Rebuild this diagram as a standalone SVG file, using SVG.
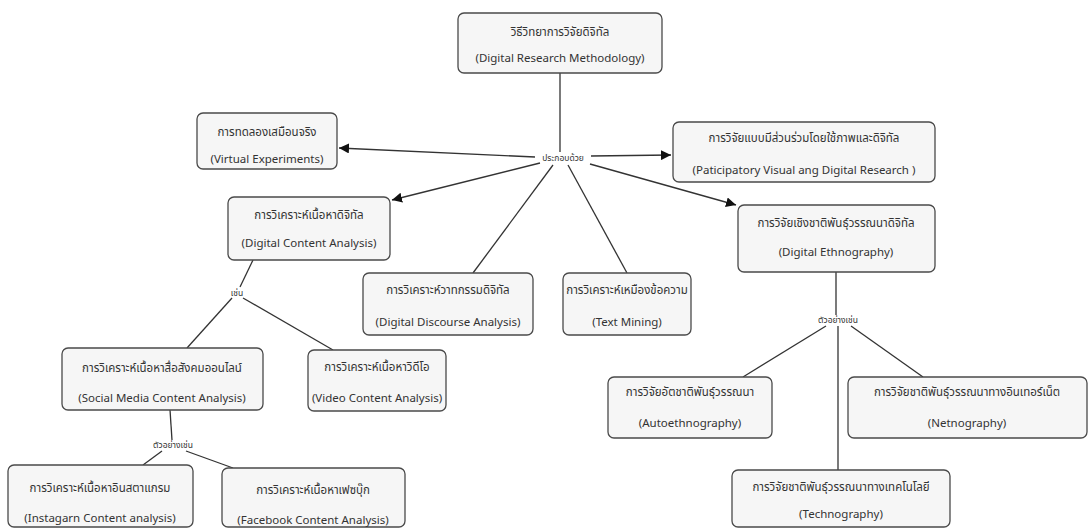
<svg xmlns="http://www.w3.org/2000/svg" width="1091" height="528" viewBox="0 0 1091 528">
<defs>
<style>
.box{fill:#f6f6f6;stroke:#4a4a4a;stroke-width:1.3}
.t{font-family:"Noto Sans Thai","Noto Sans","Liberation Sans",sans-serif;font-size:11.5px;fill:#333;text-anchor:middle}
.lbl{font-family:"Noto Sans Thai","Noto Sans","Liberation Sans",sans-serif;font-size:8.5px;fill:#333;text-anchor:middle}
.c{stroke:#333;stroke-width:1.3;fill:none}
</style>
<marker id="ah" markerUnits="userSpaceOnUse" markerWidth="10" markerHeight="10" viewBox="0 0 10 10" refX="10" refY="5" orient="auto">
<path d="M0,0 L10,5 L0,10 z" fill="#111"/>
</marker>
</defs>
<rect width="1091" height="528" fill="#ffffff"/>
<g id="connectors">
<line class="c" x1="560" y1="73" x2="560" y2="152"/>
<line class="c" x1="535" y1="157" x2="339" y2="148" marker-end="url(#ah)"/>
<line class="c" x1="591" y1="156" x2="671" y2="155" marker-end="url(#ah)"/>
<line class="c" x1="540" y1="163" x2="392" y2="200" marker-end="url(#ah)"/>
<line class="c" x1="590" y1="164" x2="736" y2="205" marker-end="url(#ah)"/>
<line class="c" x1="553" y1="165" x2="473" y2="273"/>
<line class="c" x1="568" y1="165" x2="627" y2="273"/>
<line class="c" x1="253" y1="260" x2="240" y2="287"/>
<line class="c" x1="232" y1="298" x2="187" y2="348"/>
<line class="c" x1="243" y1="298" x2="333" y2="350"/>
<line class="c" x1="170" y1="410" x2="172" y2="440"/>
<line class="c" x1="162" y1="451" x2="143" y2="465"/>
<line class="c" x1="186" y1="451" x2="233" y2="468"/>
<line class="c" x1="836" y1="272" x2="836" y2="315"/>
<line class="c" x1="826" y1="326" x2="743" y2="377"/>
<line class="c" x1="851" y1="326" x2="923" y2="377"/>
<line class="c" x1="838" y1="326" x2="838" y2="470"/>
<text class="lbl" x="563" y="161">ประกอบด้วย</text>
<text class="lbl" x="237" y="296">เช่น</text>
<text class="lbl" x="173" y="448">ตัวอย่างเช่น</text>
<text class="lbl" x="838" y="323">ตัวอย่างเช่น</text>
</g>
<g id="root"><rect class="box" x="458" y="13" width="204" height="60" rx="6"/>
<text class="t" x="560" y="36">วิธีวิทยาการวิจัยดิจิทัล</text><text class="t" x="560" y="62">(Digital Research Methodology)</text></g>
<g id="virtual"><rect class="box" x="197" y="113" width="140" height="56" rx="6"/>
<text class="t" x="267" y="136">การทดลองเสมือนจริง</text><text class="t" x="267" y="163">(Virtual Experiments)</text></g>
<g id="participatory"><rect class="box" x="673" y="122" width="262" height="60" rx="6"/>
<text class="t" x="804" y="142">การวิจัยแบบมีส่วนร่วมโดยใช้ภาพและดิจิทัล</text><text class="t" x="804" y="174">(Paticipatory Visual ang Digital Research )</text></g>
<g id="dca"><rect class="box" x="228" y="197" width="162" height="63" rx="6"/>
<text class="t" x="309" y="219">การวิเคราะห์เนื้อหาดิจิทัล</text><text class="t" x="309" y="247">(Digital Content Analysis)</text></g>
<g id="ethno"><rect class="box" x="738" y="205" width="197" height="67" rx="6"/>
<text class="t" x="836" y="227">การวิจัยเชิงชาติพันธุ์วรรณนาดิจิทัล</text><text class="t" x="836" y="256">(Digital Ethnography)</text></g>
<g id="discourse"><rect class="box" x="363" y="273" width="170" height="62" rx="6"/>
<text class="t" x="448" y="294">การวิเคราะห์วาทกรรมดิจิทัล</text><text class="t" x="448" y="326">(Digital Discourse Analysis)</text></g>
<g id="textmining"><rect class="box" x="563" y="273" width="128" height="62" rx="6"/>
<text class="t" x="627" y="294">การวิเคราะห์เหมืองข้อความ</text><text class="t" x="627" y="326">(Text Mining)</text></g>
<g id="social"><rect class="box" x="62" y="348" width="201" height="62" rx="6"/>
<text class="t" x="162" y="372">การวิเคราะห์เนื้อหาสื่อสังคมออนไลน์</text><text class="t" x="162" y="402">(Social Media Content Analysis)</text></g>
<g id="video"><rect class="box" x="308" y="350" width="138" height="61" rx="6"/>
<text class="t" x="377" y="371">การวิเคราะห์เนื้อหาวิดีโอ</text><text class="t" x="377" y="402">(Video Content Analysis)</text></g>
<g id="instagram"><rect class="box" x="8" y="465" width="185" height="62" rx="6"/>
<text class="t" x="100" y="492">การวิเคราะห์เนื้อหาอินสตาแกรม</text><text class="t" x="100" y="522">(Instagarn Content analysis)</text></g>
<g id="facebook"><rect class="box" x="222" y="468" width="183" height="59" rx="6"/>
<text class="t" x="313" y="494">การวิเคราะห์เนื้อหาเฟซบุ๊ก</text><text class="t" x="313" y="524">(Facebook Content Analysis)</text></g>
<g id="auto"><rect class="box" x="608" y="377" width="164" height="61" rx="6"/>
<text class="t" x="690" y="396">การวิจัยอัตชาติพันธุ์วรรณนา</text><text class="t" x="690" y="427">(Autoethnography)</text></g>
<g id="netno"><rect class="box" x="848" y="377" width="239" height="61" rx="6"/>
<text class="t" x="967" y="396">การวิจัยชาติพันธุ์วรรณนาทางอินเทอร์เน็ต</text><text class="t" x="967" y="427">(Netnography)</text></g>
<g id="techno"><rect class="box" x="732" y="470" width="218" height="57" rx="6"/>
<text class="t" x="841" y="491">การวิจัยชาติพันธุ์วรรณนาทางเทคโนโลยี</text><text class="t" x="841" y="518">(Technography)</text></g>
</svg>
